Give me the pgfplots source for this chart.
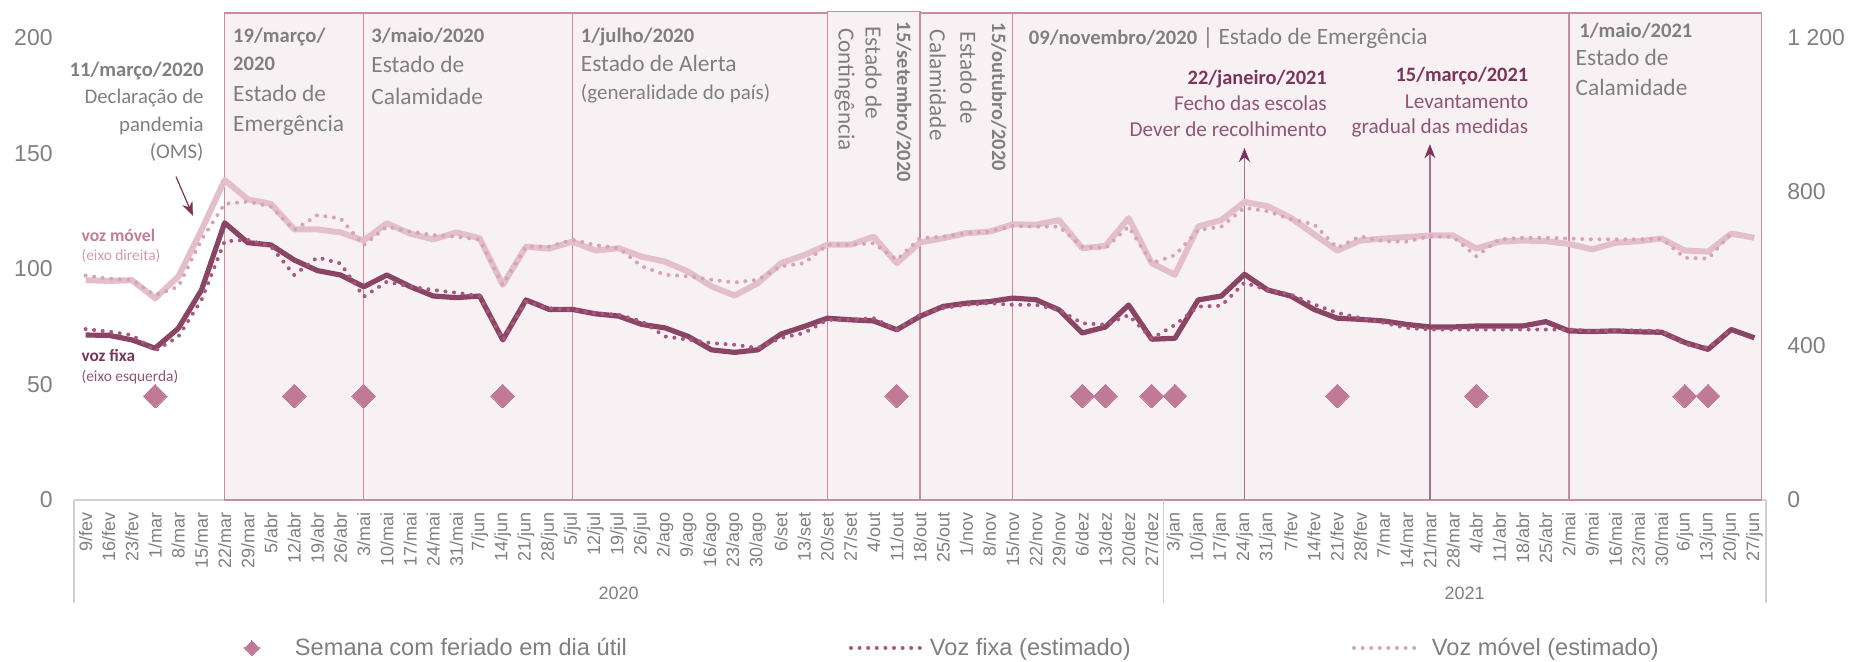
\documentclass[border=0pt]{standalone}
\usepackage{fontspec}
\setmainfont{Carlito}
\newfontfamily\arial{Liberation Sans}
\usepackage{pgfplots}
\pgfplotsset{compat=1.18}
\usepackage{pgfplotstable}
\usetikzlibrary{arrows.meta}
\newcommand\fs[1]{\fontsize{#1}{#1}\selectfont}
\definecolor{fixac}{HTML}{8A4565}
\definecolor{movc}{HTML}{E3BFCD}
\definecolor{fixad}{HTML}{A9587D}
\definecolor{movd}{HTML}{D8A3B7}
\definecolor{diamc}{HTML}{C07A96}
\definecolor{boxd}{HTML}{C98AA4}
\definecolor{boxf}{HTML}{F8F1F4}
\definecolor{txtg}{HTML}{7F7F7F}
\definecolor{purp}{HTML}{7A3558}
\definecolor{purpl}{HTML}{8E5673}
\definecolor{pinkl}{HTML}{C27B98}
\definecolor{pinkll}{HTML}{D39AB1}
\definecolor{sepg}{HTML}{D0D0D0}
\definecolor{arrc}{HTML}{A8708A}

\pgfplotstableread{
x F FD M MD
0 71.4 74.0 571 583
1 71.3 72.9 569 575
2 69.3 71.4 571 571
3 65.7 64.6 524 532
4 74.3 70.7 580 554
5 90.9 86.6 701 676
6 120.0 112.0 831 769
7 111.4 112.6 781 775
8 110.4 109.7 769 762
9 103.9 97.4 703 701
10 99.3 105.0 703 740
11 97.4 102.4 695 731
12 92.3 88.0 674 662
13 97.4 94.5 719 710
14 92.4 92.4 692 697
15 88.3 90.9 677 688
16 87.6 89.7 695 684
17 88.3 88.3 680 676
18 69.3 69.3 559 559
19 86.6 85.8 658 658
20 82.5 83.0 653 658
21 82.5 82.3 671 676
22 80.6 80.8 648 662
23 79.6 80.2 654 654
24 76.0 77.3 632 607
25 74.5 70.8 619 585
26 70.8 69.4 593 581
27 65.0 67.9 555 572
28 63.9 67.2 531 565
29 65.0 65.8 563 572
30 71.8 70.1 615 607
31 75.1 72.3 636 615
32 78.7 78.0 663 663
33 78.0 78.0 663 663
34 77.5 78.7 684 667
35 73.7 73.7 615 624
36 79.5 80.2 669 680
37 83.8 83.1 680 684
38 85.2 84.5 693 693
39 85.9 85.2 697 697
40 87.4 84.5 716 712
41 86.7 84.5 715 710
42 82.3 82.3 727 710
43 72.3 76.5 654 658
44 74.9 75.9 660 654
45 84.4 80.0 732 710
46 69.6 69.9 615 615
47 70.0 75.8 585 636
48 86.6 83.7 710 701
49 88.3 84.1 727 710
50 97.7 94.1 774 759
51 90.9 90.9 763 750
52 88.3 88.9 733 729
53 82.5 84.7 690 716
54 78.7 81.0 648 655
55 78.2 78.8 674 685
56 77.5 76.7 679 672
57 76.0 74.5 683 671
58 74.9 73.8 687 685
59 74.9 73.8 687 683
60 75.3 73.8 653 633
61 75.3 73.8 671 677
62 75.3 73.8 674 681
63 77.2 73.8 672 681
64 73.2 73.8 665 679
65 72.9 73.2 651 677
66 73.2 73.4 668 677
67 72.8 73.4 672 677
68 72.6 73.2 679 679
69 68.2 67.4 648 629
70 65.2 65.9 645 627
71 73.8 73.8 692 692
72 70.2 nan 681 nan
}\data

\pgfplotstableread{
x y
3 45
9 45
12 45
18 45
35 45
43 45
44 45
46 45
47 45
54 45
60 45
69 45
70 45
}\diam

\tikzset{
  ann/.style={inner sep=0pt, outer sep=0pt},
  dotline/.style={line width=2pt, line cap=round, dash pattern=on 0pt off 4.3pt},
}
\pgfplotsset{
  diamlegend/.style={legend image code/.code={\path[draw=none,fill=none] (0pt,-3pt) (22pt,3pt); \draw[##1, mark size=2.6pt] plot coordinates {(11pt,0pt)};}},
  fixlegend/.style={legend image code/.code={\draw[##1] (0pt,0pt) -- (35pt,0pt);}},
  movlegend/.style={legend image code/.code={\draw[##1] (0pt,0pt) -- (34pt,0pt);}},
}

\begin{document}
\begin{tikzpicture}
\path[use as bounding box] (0pt,0pt) rectangle (924.5pt,331pt);
\begin{axis}[
  at={(37pt,81pt)}, anchor=south west,
  width=846pt, height=231pt, scale only axis,
  xmin=-0.5, xmax=72.5, ymin=0, ymax=200,
  clip=false,
  axis x line*=bottom, axis y line*=left,
  x axis line style={draw=sepg, line width=0.8pt, -},
  y axis line style={draw=none},
  major tick length=0pt,
  xtick={0,...,72},
  xticklabels={9/fev,16/fev,23/fev,1/mar,8/mar,15/mar,22/mar,29/mar,5/abr,12/abr,19/abr,26/abr,3/mai,10/mai,17/mai,24/mai,31/mai,7/jun,14/jun,21/jun,28/jun,5/jul,12/jul,19/jul,26/jul,2/ago,9/ago,16/ago,23/ago,30/ago,6/set,13/set,20/set,27/set,4/out,11/out,18/out,25/out,1/nov,8/nov,15/nov,22/nov,29/nov,6/dez,13/dez,20/dez,27/dez,3/jan,10/jan,17/jan,24/jan,31/jan,7/fev,14/fev,21/fev,28/fev,7/mar,14/mar,21/mar,28/mar,4/abr,11/abr,18/abr,25/abr,2/mai,9/mai,16/mai,23/mai,30/mai,6/jun,13/jun,20/jun,27/jun},
  xticklabel style={yshift=-6pt, rotate=90, anchor=east, font=\arial\fs{9}, text=txtg, inner sep=0pt},
  ytick={0,50,100,150,200},
  yticklabels={0,50,100,150,200},
  yticklabel style={font=\arial\fs{11.5}, text=txtg, inner sep=0pt, xshift=-10.5pt},
  legend columns=3,
  legend style={at={(0.0922,-0.3203)}, anchor=west, draw=none, fill=none,
    inner sep=0pt, outer sep=0pt, column sep=0pt,
    font=\arial\fs{11.8}, text=txtg,
    cells={anchor=west}, nodes={inner sep=0pt}},
]
% state boxes
\draw[boxd, fill=boxf, line width=0.7pt] (axis cs:6,0) rectangle (axis cs:12,210.8);
\draw[boxd, fill=boxf, line width=0.7pt] (axis cs:12,0) rectangle (axis cs:21,210.8);
\draw[boxd, fill=boxf, line width=0.7pt] (axis cs:21,0) rectangle (axis cs:32,210.8);
\draw[boxd, fill=boxf, line width=0.7pt] (axis cs:32,0) rectangle (axis cs:36,211.4);
\draw[boxd, fill=boxf, line width=0.7pt] (axis cs:36,0) rectangle (axis cs:40,210.8);
\draw[boxd, fill=boxf, line width=0.7pt] (axis cs:40,0) rectangle (axis cs:64,210.8);
\draw[boxd, fill=boxf, line width=0.7pt] (axis cs:64,0) rectangle (axis cs:72.3,210.8);
% separators below axis
\draw[sepg, line width=0.8pt] (axis cs:-0.5,0) -- ([yshift=-51.5pt]axis cs:-0.5,0);
\draw[sepg, line width=0.8pt] (axis cs:46.5,0) -- ([yshift=-51.5pt]axis cs:46.5,0);
\draw[sepg, line width=0.8pt] (axis cs:72.5,0) -- ([yshift=-51.5pt]axis cs:72.5,0);
\node[ann, font=\arial\fs{9}, text=txtg] at ([yshift=-46.5pt]axis cs:23,0) {2020};
\node[ann, font=\arial\fs{9}, text=txtg] at ([yshift=-46.5pt]axis cs:59.5,0) {2021};
% arrows
\draw[arrc, line width=0.6pt, -{Stealth[length=7pt,width=5.5pt,color=purp]}] (axis cs:50,0) -- (axis cs:50,152.4);
\draw[arrc, line width=0.6pt, -{Stealth[length=7pt,width=5.5pt,color=purp]}] (axis cs:58,0) -- (axis cs:58,154);
\draw[purp, line width=0.6pt, -{Stealth[length=7pt,width=5.5pt]}] (axis cs:3.9,140) -- (axis cs:4.63,123);

\addplot[diamc, only marks, mark=square*, mark size=4.2pt, mark options={rotate=45, fill=diamc, draw=diamc, line width=0pt}, diamlegend]
  table[x=x,y=y] {\diam};
\addlegendentry{\makebox[287.5pt][l]{\hspace*{10.5pt}Semana com feriado em dia útil}}
\addplot[fixac, line width=2.6pt, line join=round, forget plot] table[x=x,y=F] {\data};
\addplot[fixad, dotline, fixlegend] table[x=x,y=FD] {\data};
\addlegendentry{\makebox[214.5pt][l]{\hspace*{3.5pt}Voz fixa (estimado)}}
\addlegendimage{movd, dotline, movlegend}
\addlegendentry{\hspace*{4pt}Voz móvel (estimado)}

% annotations
\node[ann, anchor=base east, font=\bfseries\fs{10.3}, text=txtg] at (axis cs:5.09,183.5) {11/março/2020};
\node[ann, anchor=base east, font=\fs{10.4}, text=txtg] at (axis cs:5.09,171.7) {Declaração de};
\node[ann, anchor=base east, font=\fs{10.4}, text=txtg] at (axis cs:5.09,159.7) {pandemia};
\node[ann, anchor=base east, font=\fs{10.4}, text=txtg] at (axis cs:5.09,148) {(OMS)};

\node[ann, anchor=base west, font=\bfseries\fs{10.3}, text=txtg] at (axis cs:6.37,198) {19/março/};
\node[ann, anchor=base west, font=\bfseries\fs{10.3}, text=txtg] at (axis cs:6.37,185.9) {2020};
\node[ann, anchor=base west, font=\fs{11.7}, text=txtg] at (axis cs:6.37,172.4) {Estado de};
\node[ann, anchor=base west, font=\fs{11.7}, text=txtg] at (axis cs:6.37,159.4) {Emergência};

\node[ann, anchor=base west, font=\bfseries\fs{10.3}, text=txtg] at (axis cs:12.33,198) {3/maio/2020};
\node[ann, anchor=base west, font=\fs{11.7}, text=txtg] at (axis cs:12.33,185) {Estado de};
\node[ann, anchor=base west, font=\fs{11.7}, text=txtg] at (axis cs:12.33,171.4) {Calamidade};

\node[ann, anchor=base west, font=\bfseries\fs{10.3}, text=txtg] at (axis cs:21.37,198) {1/julho/2020};
\node[ann, anchor=base west, font=\fs{11.7}, text=txtg] at (axis cs:21.37,185.4) {Estado de Alerta};
\node[ann, anchor=base west, font=\fs{10.5}, text=txtg] at (axis cs:21.37,173.2) {(generalidade do país)};

\node[ann, rotate=-90, anchor=west, font=\fs{11.6}, text=txtg] at (axis cs:32.75,204.2) {Contingência};
\node[ann, rotate=-90, anchor=west, font=\fs{11.6}, text=txtg] at (axis cs:34.0,204.9) {Estado de};
\node[ann, rotate=-90, anchor=west, font=\bfseries\fs{10.2}, text=txtg] at (axis cs:35.3,207) {15/setembro/2020};
\node[ann, rotate=-90, anchor=west, font=\fs{11.6}, text=txtg] at (axis cs:36.77,203.5) {Calamidade};
\node[ann, rotate=-90, anchor=west, font=\fs{11.6}, text=txtg] at (axis cs:38.09,202.7) {Estado de};
\node[ann, rotate=-90, anchor=west, font=\bfseries\fs{10.2}, text=txtg] at (axis cs:39.4,206.6) {15/outubro/2020};

\node[ann, anchor=base west, font=\fs{11.7}, text=txtg] at (axis cs:40.7,197) {{\bfseries\fs{10.3}09/novembro/2020} | Estado de Emergência};

\node[ann, anchor=base west, font=\bfseries\fs{10.3}, text=txtg] at (axis cs:64.45,200.3) {1/maio/2021};
\node[ann, anchor=base west, font=\fs{11.7}, text=txtg] at (axis cs:64.29,188.3) {Estado de};
\node[ann, anchor=base west, font=\fs{11.7}, text=txtg] at (axis cs:64.29,175.3) {Calamidade};

\node[ann, anchor=base east, font=\bfseries\fs{10.2}, text=purp] at (axis cs:53.55,179.7) {22/janeiro/2021};
\node[ann, anchor=base east, font=\fs{10.6}, text=purpl] at (axis cs:53.55,168.5) {Fecho das escolas};
\node[ann, anchor=base east, font=\fs{10.6}, text=purpl] at (axis cs:53.55,157.3) {Dever de recolhimento};
\node[ann, anchor=base east, font=\bfseries\fs{10.2}, text=purp] at (axis cs:62.24,181.1) {15/março/2021};
\node[ann, anchor=base east, font=\fs{10.6}, text=purpl] at (axis cs:62.24,169.5) {Levantamento};
\node[ann, anchor=base east, font=\fs{10.6}, text=purpl] at (axis cs:62.24,158.7) {gradual das medidas};

\node[ann, anchor=base west, font=\bfseries\fs{8.8}, text=pinkl] at (axis cs:-0.17,112.1) {voz móvel};
\node[ann, anchor=base west, font=\fs{7.7}, text=pinkll] at (axis cs:-0.17,103.6) {(eixo direita)};
\node[ann, anchor=base west, font=\bfseries\fs{8.6}, text=purp] at (axis cs:-0.17,59.9) {voz fixa};
\node[ann, anchor=base west, font=\fs{7.7}, text=purpl] at (axis cs:-0.17,51.5) {(eixo esquerda)};
\end{axis}

\begin{axis}[
  at={(37pt,81pt)}, anchor=south west,
  width=846pt, height=231pt, scale only axis,
  xmin=-0.5, xmax=72.5, ymin=0, ymax=1200,
  clip=false,
  axis x line=none, axis y line*=right,
  y axis line style={draw=none},
  major tick length=0pt,
  ytick={0,400,800,1200},
  yticklabels={0,400,800,1 200},
  yticklabel style={font=\arial\fs{11.5}, text=txtg, inner sep=0pt, xshift=10.5pt},
]
\addplot[movc, line width=3pt, line join=round] table[x=x,y=M] {\data};
\addplot[movd, dotline] table[x=x,y=MD] {\data};
\end{axis}
\end{tikzpicture}
\end{document}
